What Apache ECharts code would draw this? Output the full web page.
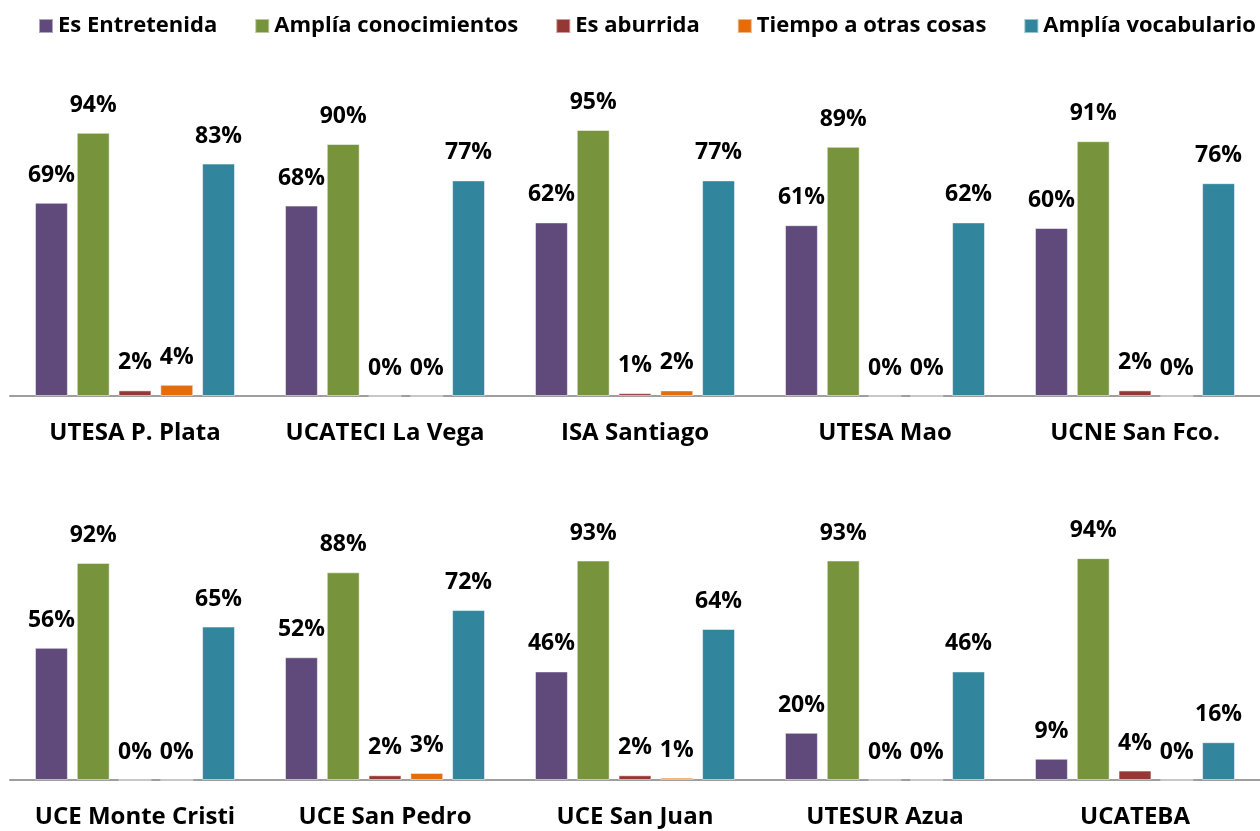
<!DOCTYPE html>
<html>
<head>
<meta charset="utf-8">
<script src="https://cdn.jsdelivr.net/npm/echarts@6/dist/echarts.min.js"></script>
<style>
    html, body { margin: 0; padding: 0; background: #fff; }
    #chart { width: 1260px; height: 831px; }
</style>
</head>
<body>
<div id="chart"></div>
<script>
var catsTop = ['UTESA P. Plata', 'UCATECI La Vega', 'ISA Santiago', 'UTESA Mao', 'UCNE San Fco.'];
var catsBottom = ['UCE Monte Cristi', 'UCE San Pedro', 'UCE San Juan', 'UTESUR Azua', 'UCATEBA'];

var seriesNames = ['Es Entretenida', 'Amplía conocimientos', 'Es aburrida', 'Tiempo a otras cosas', 'Amplía vocabulario'];
var seriesColors = ['#604A7B', '#77933C', '#953735', '#E46C0A', '#31859C'];

// valores en %, primero la fila de arriba y luego la de abajo
var entretenida = [69, 68, 62, 61, 60, 56, 52, 46, 20, 9];
var conocimientos = [94, 90, 95, 89, 91, 92, 88, 93, 93, 94];
var aburrida = [2, 0, 1, 0, 2, 0, 2, 2, 0, 4];
var tiempo = [4, 0, 2, 0, 0, 0, 3, 1, 0, 0];
var vocabulario = [83, 77, 77, 62, 76, 65, 72, 64, 46, 16];

var allData = [entretenida, conocimientos, aburrida, tiempo, vocabulario];
var fontName = 'Open Sans';

function makeSeries(gridIdx) {
    var out = [];
    for (var i = 0; i < allData.length; i++) {
        var d = gridIdx === 0 ? allData[i].slice(0, 5) : allData[i].slice(5, 10);
        out.push({
            name: seriesNames[i],
            type: 'bar',
            xAxisIndex: gridIdx,
            yAxisIndex: gridIdx,
            barGap: '27%',
            barCategoryGap: '20%',
            itemStyle: {
                color: seriesColors[i],
                borderColor: 'rgba(255,255,255,0.5)',
                borderWidth: 1
            },
            label: {
                show: true,
                position: 'top',
                distance: 16,
                formatter: '{c}%',
                fontFamily: fontName,
                fontWeight: 'bold',
                fontSize: 23,
                color: '#000'
            },
            data: d
        });
    }
    return out;
}

var xAxisBase = {
    type: 'category',
    axisLine: { lineStyle: { color: '#9E9E9E', width: 2 } },
    axisTick: { show: false },
    axisLabel: {
        interval: 0,
        margin: 25,
        fontFamily: fontName,
        fontWeight: 'bold',
        fontSize: 24,
        color: '#000'
    }
};

var option = {
    animation: false,
    legend: {
        top: 10,
        left: 33,
        width: 1300,
        itemWidth: 14,
        itemHeight: 14,
        itemGap: 37,
        icon: 'rect',
        textStyle: {
            fontFamily: fontName,
            fontWeight: 'bold',
            fontSize: 22,
            color: '#000'
        },
        data: seriesNames
    },
    grid: [
        { left: 10, right: 0, top: 116, height: 280 },
        { left: 10, right: 0, top: 544, height: 236 }
    ],
    xAxis: [
        Object.assign({}, xAxisBase, { gridIndex: 0, data: catsTop }),
        Object.assign({}, xAxisBase, { gridIndex: 1, data: catsBottom })
    ],
    yAxis: [
        { gridIndex: 0, type: 'value', min: 0, max: 100, show: false },
        { gridIndex: 1, type: 'value', min: 0, max: 100, show: false }
    ],
    series: makeSeries(0).concat(makeSeries(1))
};

var chart = echarts.init(document.getElementById('chart'));
chart.setOption(option);
</script>
</body>
</html>
